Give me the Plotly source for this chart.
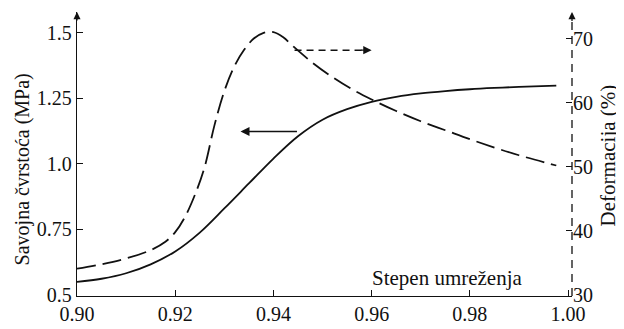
import plotly.graph_objects as go

# Solid curve: Savojna čvrstoća (MPa), left axis
x_strength = [0.900, 0.905, 0.910, 0.915, 0.920, 0.925, 0.930, 0.935, 0.940, 0.945,
              0.950, 0.955, 0.960, 0.965, 0.970, 0.975, 0.980, 0.985, 0.990, 0.9976]
y_strength = [0.550, 0.562, 0.583, 0.617, 0.666, 0.738, 0.830, 0.925, 1.020, 1.105,
              1.168, 1.208, 1.236, 1.255, 1.268, 1.277, 1.284, 1.289, 1.293, 1.298]

# Dashed curve: Deformacija (%), right axis
x_deform = [0.900, 0.905, 0.910, 0.915, 0.918, 0.920, 0.922, 0.924, 0.926, 0.928,
            0.930, 0.932, 0.934, 0.936, 0.938, 0.940, 0.942, 0.944, 0.948, 0.952,
            0.956, 0.960, 0.965, 0.970, 0.975, 0.980, 0.985, 0.990, 0.9976]
y_deform = [34.1, 34.8, 35.7, 37.0, 38.3, 39.8, 42.2, 45.6, 50.0, 56.5,
            61.8, 65.6, 68.2, 70.0, 70.9, 71.0, 70.2, 68.8, 66.2, 64.0,
            62.1, 60.5, 58.7, 57.1, 55.7, 54.3, 53.0, 51.8, 50.2]

x_ticks = [0.90, 0.92, 0.94, 0.96, 0.98, 1.00]
x_ticklabels = ["0.90", "0.92", "0.94", "0.96", "0.98", "1.00"]
y_ticks = [0.5, 0.75, 1.0, 1.25, 1.5]
y_ticklabels = ["0.5", "0.75", "1.0", "1.25", "1.5"]
y2_ticks = [30, 40, 50, 60, 70]
y2_ticklabels = ["30", "40", "50", "60", "70"]

X_RANGE = [0.90, 1.0008]
Y_RANGE = [0.5 - 1 / 268, 1.5784]
Y2_RANGE = [29.847, 74.14]

INK = "#111111"
FONT = "Times New Roman, Liberation Serif, DejaVu Serif, serif"

fig = go.Figure()
fig.add_trace(go.Scatter(x=x_strength, y=y_strength, mode="lines",
                         line=dict(color=INK, width=1.8, shape="spline", smoothing=1.0),
                         yaxis="y", showlegend=False))
fig.add_trace(go.Scatter(x=x_deform, y=y_deform, mode="lines",
                         line=dict(color=INK, width=1.8, shape="spline", smoothing=1.0,
                                   dash="19px,7px"),
                         yaxis="y2", showlegend=False))

# right axis dashed line
fig.add_shape(type="line", xref="paper", yref="paper", x0=1, x1=1, y0=0, y1=0.985,
              line=dict(color=INK, width=1.3, dash="8px,6px"))

# axis arrows
fig.add_annotation(x=X_RANGE[0], y=Y_RANGE[1], ax=X_RANGE[0], ay=1.54,
                   xref="x", yref="y", axref="x", ayref="y", showarrow=True,
                   arrowhead=2, arrowsize=1.1, arrowwidth=1.3, arrowcolor=INK, text="")
fig.add_annotation(x=X_RANGE[1], y=Y2_RANGE[1], ax=X_RANGE[1], ay=72.5,
                   xref="x", yref="y2", axref="x", ayref="y2", showarrow=True,
                   arrowhead=2, arrowsize=1.1, arrowwidth=1.3, arrowcolor=INK, text="")

# dashed arrow pointing right (to the deformation axis)
fig.add_shape(type="line", xref="x", yref="y", x0=0.9443, x1=0.9580, y0=1.433, y1=1.433,
              line=dict(color=INK, width=1.5, dash="7px,5px"))
fig.add_annotation(x=0.9600, y=1.433, ax=0.9575, ay=1.433,
                   xref="x", yref="y", axref="x", ayref="y", showarrow=True,
                   arrowhead=2, arrowsize=1.2, arrowwidth=1.4, arrowcolor=INK, text="")
# solid arrow pointing left (to the strength axis)
fig.add_annotation(x=0.9333, y=1.123, ax=0.9451, ay=1.123,
                   xref="x", yref="y", axref="x", ayref="y", showarrow=True,
                   arrowhead=2, arrowsize=1.2, arrowwidth=1.5, arrowcolor=INK, text="")

# axis titles
fig.add_annotation(x=0.9755, y=0.563, xref="x", yref="y", text="Stepen umreženja",
                   showarrow=False, xanchor="center", yanchor="middle",
                   font=dict(family=FONT, size=21, color=INK))
fig.add_annotation(x=-0.111, y=0.446, xref="paper", yref="paper",
                   text="Savojna čvrstoća (MPa)", textangle=-90, showarrow=False,
                   xanchor="center", yanchor="middle",
                   font=dict(family=FONT, size=20, color=INK))
fig.add_annotation(x=1.0727, y=0.495, xref="paper", yref="paper",
                   text="Deformacija (%)", textangle=-90, showarrow=False,
                   xanchor="center", yanchor="middle",
                   font=dict(family=FONT, size=21, color=INK))

# the page body adds an 8px offset, so the figure is 8px smaller on each axis
fig.update_layout(
    width=616, height=321,
    margin=dict(l=69, r=52, t=4, b=28),
    paper_bgcolor="white", plot_bgcolor="white",
    font=dict(family=FONT, size=20, color=INK),
    xaxis=dict(range=X_RANGE, tickvals=x_ticks, ticktext=x_ticklabels,
               showline=True, linecolor=INK, linewidth=1.3, ticks="inside",
               ticklen=6, tickcolor=INK, tickwidth=1.2, showgrid=False, zeroline=False,
               tickfont=dict(family=FONT, size=20, color=INK)),
    yaxis=dict(range=Y_RANGE, tickvals=y_ticks, ticktext=y_ticklabels,
               showline=True, linecolor=INK, linewidth=1.3, ticks="inside",
               ticklen=6, tickcolor=INK, tickwidth=1.2, showgrid=False, zeroline=False,
               tickfont=dict(family=FONT, size=20, color=INK)),
    yaxis2=dict(range=Y2_RANGE, tickvals=y2_ticks, ticktext=y2_ticklabels,
                overlaying="y", side="right", showline=False, ticks="inside",
                ticklen=6, tickcolor=INK, tickwidth=1.2, showgrid=False, zeroline=False,
                tickfont=dict(family=FONT, size=20, color=INK)),
)

fig.write_html("out.html")
